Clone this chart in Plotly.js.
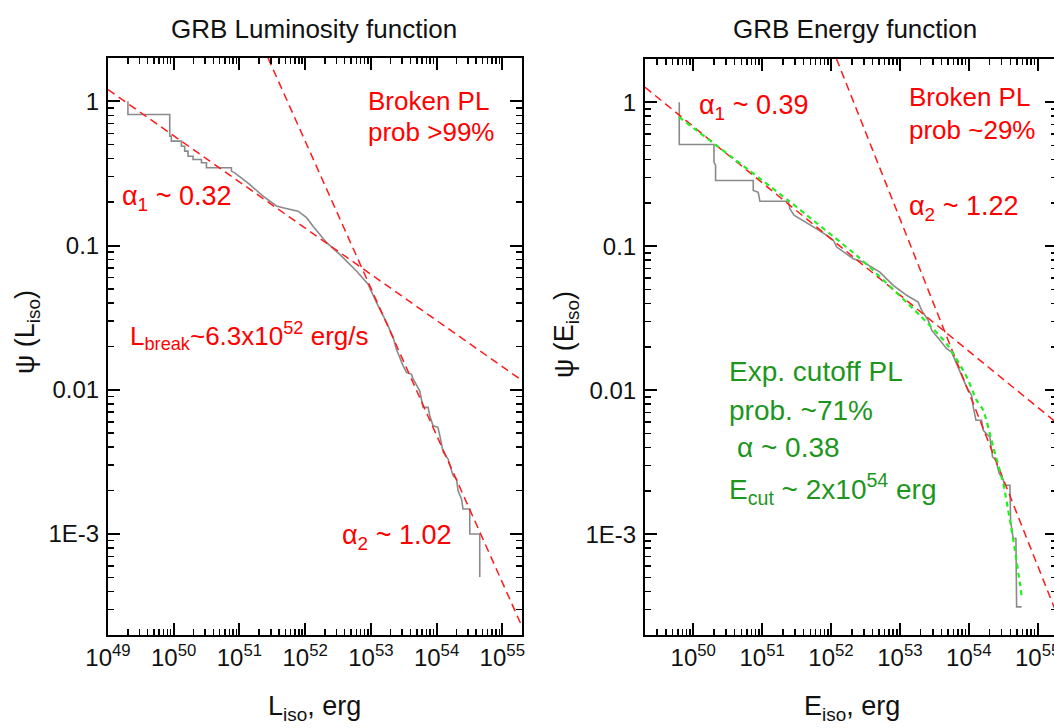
<!DOCTYPE html>
<html>
<head>
<meta charset="utf-8">
<script src="https://cdn.plot.ly/plotly-3.0.1.min.js"></script>
<style>
html,body{margin:0;padding:0;overflow:hidden;background:#fff;}
#chart{width:1062px;height:728px;}
</style>
</head>
<body>
<div id="chart"></div>
<script>
// ---------- data ----------
// Left panel: GRB luminosity function (cumulative step curve)
const lumX = [2.01e49, 2.01e49, 8.7e49, 8.7e49, 9.2e49, 9.2e49, 1.31e50, 1.31e50, 1.47e50, 1.47e50,
  1.65e50, 1.65e50, 1.97e50, 1.97e50, 2.64e50, 2.64e50, 3.15e50, 3.15e50, 7.55e50, 7.55e50,
  8.5e50, 1.43e51, 2.29e51, 3.66e51, 4.61e51, 7.8e51, 1.05e52, 1.32e52, 2.11e52, 3.36e52,
  6.04e52, 9.06e52, 1.22e53, 1.73e53, 2.18e53, 2.45e53, 3.09e53, 3.48e53, 4.15e53, 4.39e53,
  5.54e53, 6.23e53, 7.43e53, 7.88e53, 8.85e53, 1.05e54, 1.12e54, 1.26e54, 1.50e54, 1.59e54,
  1.78e54, 2.01e54, 2.12e54, 2.39e54, 2.53e54, 3.20e54, 3.20e54, 4.54e54, 4.54e54];
const lumY = [1.0, 0.809, 0.809, 0.573, 0.573, 0.529, 0.529, 0.488, 0.488, 0.451,
  0.451, 0.416, 0.416, 0.395, 0.395, 0.375, 0.375, 0.346, 0.346, 0.328,
  0.319, 0.265, 0.220, 0.188, 0.183, 0.173, 0.156, 0.136, 0.105, 0.0869,
  0.0666, 0.0539, 0.0402, 0.0293, 0.0231, 0.0191, 0.0147, 0.0132, 0.0128, 0.0119,
  0.00984, 0.00755, 0.00755, 0.00661, 0.00563, 0.00549, 0.00481, 0.00369, 0.00331, 0.00298,
  0.00254, 0.00241, 0.00200, 0.00175, 0.00149, 0.00149, 0.00100, 0.00100, 0.000503];
// Left panel broken power-law segments (end points)
const lumFit1X = [1e49, 2.0e55];
const lumFit1Y = [1.205, 0.0116];
const lumFit2X = [2.72e51, 2.0e55];
const lumFit2Y = [2.0, 0.000228];

// Right panel: GRB energy function (cumulative step curve)
const engX = [6.27e49, 6.27e49, 2.0e50, 2.0e50, 2.11e50, 2.11e50, 7.43e50, 7.43e50, 8.78e50, 9.28e50,
  2.39e51, 2.53e51, 2.90e51, 3.54e51, 4.43e51, 6.18e51, 8.63e51, 1.08e52, 1.21e52, 1.50e52,
  2.10e52, 2.93e52, 5.12e52, 8.0e52, 1.25e53, 1.84e53, 2.07e53, 2.58e53, 2.89e53, 3.81e53,
  4.77e53, 5.63e53, 6.65e53, 7.43e53, 8.30e53, 9.29e53, 1.10e54, 1.16e54, 1.27e54, 1.53e54,
  1.62e54, 2.02e54, 2.21e54, 2.47e54, 2.76e54, 3.10e54, 3.34e54, 3.95e54, 4.05e54, 4.41e54,
  4.83e54, 4.94e54, 5.84e54];
const engY = [1.0, 0.509, 0.509, 0.384, 0.364, 0.286, 0.286, 0.244, 0.237, 0.205,
  0.205, 0.182, 0.164, 0.155, 0.147, 0.132, 0.119, 0.110, 0.0986, 0.0920,
  0.0819, 0.0776, 0.0661, 0.0534, 0.0456, 0.0409, 0.0358, 0.0305, 0.0261, 0.0222,
  0.0194, 0.0184, 0.0153, 0.0134, 0.0117, 0.0105, 0.00922, 0.00765, 0.00618, 0.00618,
  0.00527, 0.00473, 0.00344, 0.00326, 0.00264, 0.00244, 0.00219, 0.00219, 0.00122, 0.000933,
  0.000933, 0.000313, 0.000313];
// Right panel broken power-law segments (end points)
const engFit1X = [2.0e49, 1.9e55];
const engFit1Y = [1.27, 0.00592];
const engFit2X = [1.2e52, 1.9e55];
const engFit2Y = [2.0, 0.000278];
// Right panel exponential cut-off power law
const cutX = [6.2e49, 2.39e51, 2.51e52, 4.07e52, 1.95e53, 4.76e53, 9.29e53, 1.30e54, 1.62e54,
  2.26e54, 3.16e54, 3.95e54, 4.67e54, 5.52e54, 5.83e54];
const cutY = [0.79, 0.208, 0.084, 0.068, 0.0331, 0.0210, 0.0124, 0.0085, 0.00726,
  0.00404, 0.00225, 0.00125, 0.000774, 0.000455, 0.000377];

// Tick labels
const xTickVals = [1e49, 1e50, 1e51, 1e52, 1e53, 1e54, 1e55];
const xTickText = ['10<sup>49</sup>', '10<sup>50</sup>', '10<sup>51</sup>', '10<sup>52</sup>',
  '10<sup>53</sup>', '10<sup>54</sup>', '10<sup>55</sup>'];
const yTickVals = [1, 0.1, 0.01, 0.001];
const yTickText = ['1', '0.1', '0.01', '1E-3'];

// ---------- layout helpers ----------
const W = 1062, H = 728;
const FONT = 'Liberation Sans, Arial, Helvetica, sans-serif';
const px = v => v / W;
const py = v => 1 - v / H;

const xMinor = [];
for (let k = 48; k <= 55; k++) for (let d = 2; d <= 9; d++) xMinor.push(d * Math.pow(10, k));
const yMinor = [];
for (let k = -4; k <= 0; k++) for (let d = 2; d <= 9; d++) yMinor.push(d * Math.pow(10, k));

function xAxis(dom, rng, anchor) {
  return {
    type: 'log', domain: dom, range: rng, anchor: anchor,
    showline: true, linewidth: 2, linecolor: '#000', mirror: 'allticks',
    ticks: 'inside', ticklen: 12, tickwidth: 2, tickcolor: '#000',
    tickmode: 'array', tickvals: xTickVals, ticktext: xTickText,
    tickfont: {family: FONT, size: 24, color: '#111'},
    minor: {tickmode: 'array', tickvals: xMinor, ticks: 'inside', ticklen: 6, tickwidth: 1.5, tickcolor: '#000', showgrid: false},
    showgrid: false, zeroline: false, fixedrange: true
  };
}
function yAxis(dom, anchor) {
  return {
    type: 'log', domain: dom, range: [-3.70, 0.30], anchor: anchor,
    showline: true, linewidth: 2, linecolor: '#000', mirror: 'allticks',
    ticks: 'inside', ticklen: 12, tickwidth: 2, tickcolor: '#000',
    tickmode: 'array', tickvals: yTickVals, ticktext: yTickText,
    tickfont: {family: FONT, size: 24, color: '#111'},
    ticklabelstandoff: 2,
    minor: {tickmode: 'array', tickvals: yMinor, ticks: 'inside', ticklen: 6, tickwidth: 1.5, tickcolor: '#000', showgrid: false},
    showgrid: false, zeroline: false, fixedrange: true
  };
}

const RED = '#ff1a1a';
const GREEN_LINE = '#22ee22';
const GRAY = '#8a8a8a';

const traces = [
  {x: lumX, y: lumY, xaxis: 'x', yaxis: 'y', mode: 'lines', line: {color: GRAY, width: 1.6}, hoverinfo: 'skip'},
  {x: lumFit1X, y: lumFit1Y, xaxis: 'x', yaxis: 'y', mode: 'lines', line: {color: RED, width: 1.5, dash: '8px,5px'}, hoverinfo: 'skip'},
  {x: lumFit2X, y: lumFit2Y, xaxis: 'x', yaxis: 'y', mode: 'lines', line: {color: RED, width: 1.5, dash: '8px,5px'}, hoverinfo: 'skip'},
  {x: engX, y: engY, xaxis: 'x2', yaxis: 'y2', mode: 'lines', line: {color: GRAY, width: 1.6}, hoverinfo: 'skip'},
  {x: engFit1X, y: engFit1Y, xaxis: 'x2', yaxis: 'y2', mode: 'lines', line: {color: RED, width: 1.5, dash: '8px,5px'}, hoverinfo: 'skip'},
  {x: engFit2X, y: engFit2Y, xaxis: 'x2', yaxis: 'y2', mode: 'lines', line: {color: RED, width: 1.5, dash: '8px,5px'}, hoverinfo: 'skip'},
  {x: cutX, y: cutY, xaxis: 'x2', yaxis: 'y2', mode: 'lines', line: {color: GREEN_LINE, width: 2.2, dash: '5px,4px', shape: 'spline', smoothing: 0.6}, hoverinfo: 'skip'}
];

function ann(text, x, y, opts) {
  return Object.assign({
    text: text, x: px(x), y: py(y), xref: 'paper', yref: 'paper',
    xanchor: 'left', yanchor: 'middle', showarrow: false,
    font: {family: FONT, size: 26, color: '#ff0000'}
  }, opts || {});
}
const GREEN_TXT = '#1e961e';
const gfont = {family: FONT, size: 28, color: GREEN_TXT};
const kfont = {family: FONT, size: 26, color: '#111'};
const afont = {family: FONT, size: 27, color: '#ff0000'};

const annotations = [
  // titles
  ann('GRB Luminosity function', 314, 29, {xanchor: 'center', font: kfont}),
  ann('GRB Energy function', 855, 29, {xanchor: 'center', font: kfont}),
  ann('L<sub>iso</sub>, erg', 314, 708, {xanchor: 'center', font: {family: FONT, size: 27, color: '#111'}}),
  ann('E<sub>iso</sub>, erg', 852, 708, {xanchor: 'center', font: {family: FONT, size: 27, color: '#111'}}),
  ann('\u03c8 (L<sub>iso</sub>)', 27, 332, {xanchor: 'center', textangle: -90, font: {family: FONT, size: 27, color: '#111'}}),
  ann('\u03c8 (E<sub>iso</sub>)', 566, 335, {xanchor: 'center', textangle: -90, font: {family: FONT, size: 27, color: '#111'}}),
  // left panel text
  ann('Broken PL', 366, 101),
  ann('prob &gt;99%', 366, 132),
  ann('\u03b1<sub>1</sub> ~ 0.32', 120, 198, {font: afont}),
  ann('L<sub>break</sub>~6.3x10<sup>52</sup> erg/s', 128, 336),
  ann('\u03b1<sub>2</sub> ~ 1.02', 340, 537, {font: afont}),
  // right panel text
  ann('\u03b1<sub>1</sub> ~ 0.39', 697, 107, {font: afont}),
  ann('Broken PL', 907, 97),
  ann('prob ~29%', 907, 130),
  ann('\u03b1<sub>2</sub> ~ 1.22', 907, 208, {font: afont}),
  ann('Exp. cutoff PL', 727, 371, {font: gfont}),
  ann('prob. ~71%', 727, 410, {font: gfont}),
  ann('\u03b1 ~ 0.38', 735, 447, {font: gfont}),
  ann('E<sub>cut</sub> ~ 2x10<sup>54</sup> erg', 727, 489, {font: gfont})
];

const layout = {
  width: W, height: H,
  margin: {l: 0, r: 0, t: 0, b: 0, pad: 0},
  paper_bgcolor: '#fff', plot_bgcolor: '#fff',
  showlegend: false,
  xaxis: xAxis([px(108), px(522)], [49, 55.30], 'y'),
  yaxis: yAxis([1 - 635 / H, 1 - 58 / H], 'x'),
  xaxis2: xAxis([px(645), px(1057)], [49.30, 55.28], 'y2'),
  yaxis2: yAxis([1 - 635 / H, 1 - 59 / H], 'x2'),
  annotations: annotations,
  font: {family: FONT}
};

Plotly.newPlot('chart', traces, layout, {staticPlot: true, displayModeBar: false});
</script>
</body>
</html>
